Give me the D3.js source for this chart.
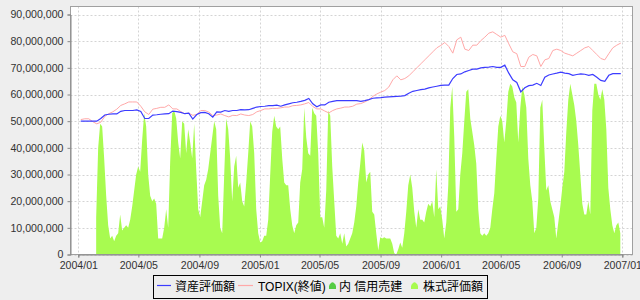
<!DOCTYPE html>
<html><head><meta charset="utf-8">
<script src="https://cdn.jsdelivr.net/npm/d3@7"></script>
<style>
html,body{margin:0;padding:0;background:#eeeeee;}
svg{display:block;}
text{font-family:"Liberation Sans",Arial,"Noto Sans CJK JP",sans-serif;}
</style></head>
<body>
<svg id="chart" width="640" height="300"></svg>
<script>
// ---- data (values in millions of yen) ----
const lineStart = "2004-01-06", lineEnd = "2006-12-29";
const areaStart = "2004-02-06", areaEnd = "2006-12-28";

const assetValue = [50,50,50,50,50,51,52.3,52.6,52.7,52.7,53.7,54,54,54,54.2,53.6,51,51,52.3,52.4,52.6,52.7,52.8,53.8,53.6,53.3,52.8,53.0,50.8,52.5,53.2,53.3,52.8,51.5,53.5,53.4,54,53.7,54,54,54.3,54.2,54.3,54.8,55.3,55.5,55.6,55.8,55.8,56,55.6,56.1,56.5,56.9,57.1,57.4,57.8,58.5,56.5,55.4,56.1,56.1,57.1,57.4,57.7,57.7,57.7,57.7,57.7,57.7,57.4,57.7,58.1,58.6,58.7,58.8,59,59.1,59.2,59.3,59.4,59.6,60.5,61.2,61.5,61.8,62,62.5,62.8,63.1,63.4,63.5,63.5,66,67.5,67.7,68.5,69,69.5,69.5,70,70.2,70.3,70.5,70.2,70.2,71,68,65.5,64.5,61,62.5,63.3,63.5,64.2,63.4,66.5,67.3,67.7,68,68.4,68,67.8,67.2,67.5,67.75,67.6,67.2,67.5,66.5,65.3,64.9,67.2,67.8,67.8,67.8];

const topixValue = [50.6,50.9,50.9,49.8,49,49.6,51.8,52.8,53.5,54.5,55.9,56.5,57.2,57.2,57.2,55.6,53.5,52.5,54.5,54.8,55.2,55.2,56.1,54.6,54.6,53.6,52.8,53,52.2,52.5,54,54,53.4,52.1,52.3,52.7,52.1,51.6,52.2,52.1,52.7,52.3,52.1,52.5,53.5,54,54.6,54.6,54.8,54.8,55,55.3,55.3,55.8,55.9,56.1,56.5,57,55.5,54.6,54.6,53.8,53.1,54,54.6,54.9,55.3,55.3,55.6,56.4,56.6,57.2,58,59.3,60.2,60.9,61.5,62.8,65.5,67,65.5,66,67,68.5,70,71.5,73,74.5,76,77.5,78.4,79.5,78,75.5,80.5,81.5,77,76.5,78.5,78.5,80.2,81.5,83,83.5,82.5,81.5,82.2,79,76,75.3,70.5,70.5,74,75,74.5,70.5,73,73.5,76.5,77,76.5,75.5,75,74.5,75.5,76.5,77.5,78,76.5,75,73.5,73,75.3,77.5,78.5,79.3];

const stockValue = [14,40,49,48,36,22,11,6,7,5,7,8,15,9,10,11,10,13,18,24,30,33,31,43,53,48,30,22,20,21,19,6,6,6,10,17,10,35,53,54,51,42,36,50,49,38,47,42,36,49,32,17,14,20,26,28,32,38,44,50,
47,22,10,8,30,51,47,36,20,33,37,25,27,20,18,27,38,50,48,38,17,8,4.5,5,7,7,13,30,46,52,48,47,48,36,27,26,26,17,11,8,11,12,27,32,55,44,38,37,55,53,52,38,14,14,10,24,54,52,33,20,7,6,8,4,8,3,4,6,8,12,
18,27,34,42,39,27,30,31,16,15,8,1.5,6.5,6,6.5,6,6,6,4,0.5,0,2,4.5,2.5,8,16,26,30,25,16,10,17,13,13,12,16,19,18,20,14,32,17,18,13,6,12,26,55,63,44,16,17,30,38,50,61,62,51,46,41,34,17,8,7,8,7,8,10,17,
23,36,48,52,50,42,50,61,64,63,59,57,42,55,63,60,55,36,26,20,8,10,21,55,58,40,24,26,20,17,14,6,12,18,25,31,46,58,64,60,56,50,41,30,19,15,15,20,15,54,64,64,60,58,62,58,47,25,17,11,8,11,12,8];

const yTickValues = [0,10,20,30,40,50,60,70,80,90];
const xTickLabels = ["2004/01","2004/05","2004/09","2005/01","2005/05","2005/09","2006/01","2006/05","2006/09","2007/01"];
const seriesNames = ["資産評価額","TOPIX(終値)","内 信用売建","株式評価額"];
const seriesColors = ["#3c3cff","#ffa8a8","#55cc44","#a8fb50"];

// ---- chart ----
const svg = d3.select("#chart");
const W = 640, H = 300;
const plot = {left:70.5, top:6.5, right:632.5, bottom:254.5};

svg.append("rect").attr("width",W).attr("height",H).attr("fill","#eeeeee");

const parse = d3.timeParse("%Y/%m");
const xTicks = xTickLabels.map(parse);
const x = d3.scaleTime().domain([xTicks[0], xTicks[xTicks.length-1]]).range([78.3, 622.3]);
const y = d3.scaleLinear().domain([0,90]).range([254.5, 14.5]);

const pd = d3.timeParse("%Y-%m-%d");
function spread(start, end, n){
  const s = +pd(start), e = +pd(end);
  return d3.range(n).map(i => new Date(s + i*(e-s)/(n-1)));
}
const lineDates = spread(lineStart, lineEnd, assetValue.length);
const areaDates = spread(areaStart, areaEnd, stockValue.length);

svg.append("rect").attr("x",plot.left).attr("y",plot.top)
  .attr("width",plot.right-plot.left).attr("height",plot.bottom-plot.top)
  .attr("fill","#ffffff");

svg.append("clipPath").attr("id","clip").append("rect")
  .attr("x",plot.left).attr("y",plot.top)
  .attr("width",plot.right-plot.left).attr("height",plot.bottom-plot.top);

// gridlines
const grid = svg.append("g");
grid.selectAll("line.v").data(xTicks).join("line")
  .attr("x1",d=>Math.round(x(d))+0.5).attr("x2",d=>Math.round(x(d))+0.5)
  .attr("y1",plot.top).attr("y2",plot.bottom)
  .attr("stroke","#d4d4d4").attr("stroke-dasharray","2,2");
grid.selectAll("line.h").data(yTickValues).join("line")
  .attr("y1",d=>Math.round(y(d))+0.5).attr("y2",d=>Math.round(y(d))+0.5)
  .attr("x1",plot.left).attr("x2",plot.right)
  .attr("stroke","#d4d4d4").attr("stroke-dasharray","2,2");

const g = svg.append("g").attr("clip-path","url(#clip)");

// area
g.append("path").datum(stockValue)
  .attr("fill",seriesColors[3])
  .attr("d", d3.area().x((d,i)=>x(areaDates[i])).y0(y(0)).y1(d=>y(d)));

// lines
g.append("path").datum(topixValue)
  .attr("fill","none").attr("stroke",seriesColors[1]).attr("stroke-width",1)
  .attr("d", d3.line().x((d,i)=>x(lineDates[i])).y(d=>y(d)));
g.append("path").datum(assetValue)
  .attr("fill","none").attr("stroke",seriesColors[0]).attr("stroke-width",1.2)
  .attr("d", d3.line().x((d,i)=>x(lineDates[i])).y(d=>y(d)));

// border
svg.append("rect").attr("x",plot.left).attr("y",plot.top)
  .attr("width",plot.right-plot.left).attr("height",plot.bottom-plot.top)
  .attr("fill","none").attr("stroke","#a0a0a0");

// axes
const yAxis = d3.axisLeft(y).tickValues(yTickValues).tickSize(3).tickPadding(4)
  .tickFormat(d=>d3.format(",")(d*1e6));
const ya = svg.append("g").attr("transform",`translate(${plot.left},0)`).call(yAxis);
const xAxis = d3.axisBottom(x).tickValues(xTicks).tickSize(3).tickPadding(4)
  .tickFormat(d3.timeFormat("%Y/%m"));
const xa = svg.append("g").attr("transform",`translate(0,${plot.bottom})`).call(xAxis);
[ya,xa].forEach(a=>{
  a.select(".domain").attr("stroke","#888");
  a.selectAll(".tick line").attr("stroke","#888");
  a.selectAll(".tick text").attr("fill","#333").style("font-size","10.6px")
    .style("font-family",'"Liberation Sans",Arial,sans-serif');
});

// legend
const lg = svg.append("g");
lg.append("rect").attr("x",153.5).attr("y",275.5).attr("width",334).attr("height",23)
  .attr("fill","none").attr("stroke","#000");
const items = [
  {type:"line", x0:157, x1:171, tx:175},
  {type:"line", x0:238, x1:253, tx:258},
  {type:"shape", cx:332.5, tx:339},
  {type:"shape", cx:414.5, tx:423}
];
const ly = 285.5;
items.forEach((it,i)=>{
  if(it.type==="line"){
    lg.append("line").attr("x1",it.x0).attr("x2",it.x1).attr("y1",ly).attr("y2",ly)
      .attr("stroke",seriesColors[i]).attr("stroke-width",1.2);
  } else {
    const c = it.cx;
    lg.append("path")
      .attr("d",`M${c-3.5},${ly+3.5} L${c-3.5},${ly+0.5} Q${c},${ly-7} ${c+3.5},${ly+0.5} L${c+3.5},${ly+3.5} Z`)
      .attr("fill",seriesColors[i]);
  }
  lg.append("text").attr("x",it.tx).attr("y",291).attr("fill","#000")
    .style("font-size","12px").text(seriesNames[i]);
});
</script>
</body></html>
